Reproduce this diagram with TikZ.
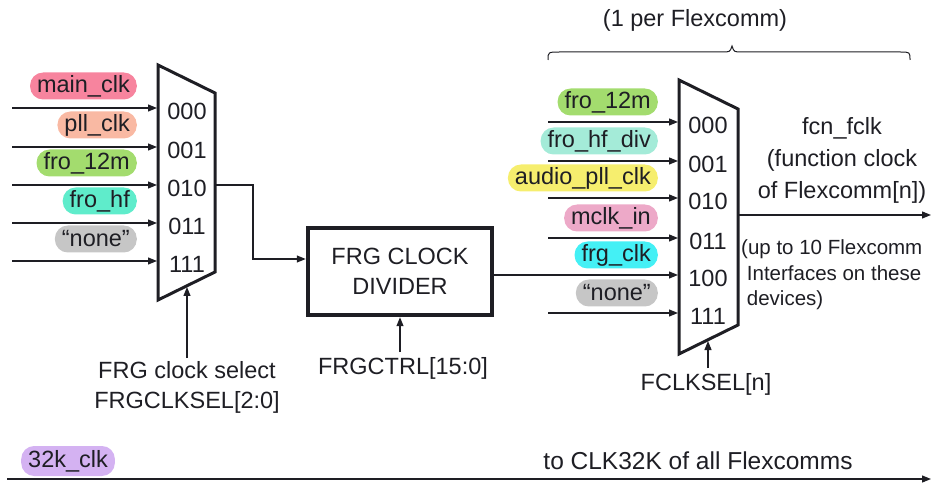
\documentclass[tikz,border=0pt]{standalone}
\usepackage{fontspec}
\setmainfont{Liberation Sans}
\usetikzlibrary{arrows.meta}
\definecolor{cmain}{HTML}{F7849E}
\definecolor{cpll}{HTML}{F9B9A3}
\definecolor{cgreen}{HTML}{A3DC6E}
\definecolor{cfrohf}{HTML}{5FECCB}
\definecolor{cnone}{HTML}{C6C6C6}
\definecolor{cdiv}{HTML}{A4EBD8}
\definecolor{caudio}{HTML}{F6EE6E}
\definecolor{cmclk}{HTML}{EDA9C8}
\definecolor{cfrg}{HTML}{44F0F5}
\definecolor{c32k}{HTML}{D4B2F2}
\definecolor{ink}{HTML}{1E1E24}
\begin{document}
\begin{tikzpicture}[x=1pt,y=-1pt,
  txt/.style={font=\fontsize{23.5}{30}\selectfont, text=ink, inner sep=0pt},
  small/.style={font=\fontsize{20.5}{25.5}\selectfont, text=ink, inner sep=0pt, align=left},
  pill/.style={txt, fill=#1, rounded corners=13pt, minimum height=27pt, inner xsep=7pt, anchor=east},
  sig/.style={draw=ink, line width=1.2pt, -{Triangle[length=9pt,width=7pt]}},
  muxbox/.style={draw=ink, line width=3pt, line join=miter},
  lbl/.style={txt}]
\useasboundingbox (0,0) rectangle (937,486);

% ---------- top brace ----------
\node[txt] (per) at (695,20) {(1 per Flexcomm)};
\draw[ink, line width=1pt] (548,60) .. controls (548,52) .. (560,52) -- (722,52)
  .. controls (730,52) .. (732,46) .. controls (734,52) .. (742,52) -- (900,52)
  .. controls (910,52) .. (910,60);

% ---------- left mux ----------
\coordinate (m1tl) at (158,65);
\coordinate (m1tr) at (215,93);
\coordinate (m1br) at (215,272);
\coordinate (m1bl) at (158,300);
\draw[muxbox] (m1tl) -- (m1tr) -- (m1br) -- (m1bl) -- cycle;

\foreach \n/\y/\lab/\col/\code in {a/108/main\_clk/cmain/000, b/147/pll\_clk/cpll/001, c/185/fro\_12m/cgreen/010, d/223/fro\_hf/cfrohf/011, e/261/``none''/cnone/111}{
  \coordinate (li\n) at (12,\y);
  \coordinate (le\n) at (157,\y);
  \draw[sig] (li\n) -- (le\n);
  \node[pill=\col] (lp\n) at (137,\y-22) {\lab};
  \node[lbl] (lc\n) at (187,\y+3) {\code};
}

% output of left mux to FRG
\coordinate (m1out) at (216,185);
\node[draw=ink, line width=4.5pt, minimum width=184pt, minimum height=87pt, txt, align=center] (frg) at (400,271.5) {FRG CLOCK\\DIVIDER};
\draw[sig] (m1out) -- (253,185) |- (frg.west |- 0,259);

% left mux select
\node[txt, align=center] (sel1) at (187,387) {FRG clock select\\FRGCLKSEL[2:0]};
\coordinate (s1a) at (187,358);
\coordinate (m1sel) at (187,287);
\draw[sig] (s1a) -- (m1sel);

% FRGCTRL
\node[txt] (ctrl) at (403,368) {FRGCTRL[15:0]};
\coordinate (c1a) at (400,352);
\draw[sig] (c1a) -- (frg.south -| c1a);

% ---------- right mux ----------
\coordinate (m2tl) at (679,80);
\coordinate (m2tr) at (738,109);
\coordinate (m2br) at (738,325);
\coordinate (m2bl) at (679,354);
\draw[muxbox] (m2tl) -- (m2tr) -- (m2br) -- (m2bl) -- cycle;

\foreach \n/\y/\lab/\col/\code in {a/122/fro\_12m/cgreen/000, b/161/fro\_hf\_div/cdiv/001, c/198/audio\_pll\_clk/caudio/010, d/238/mclk\_in/cmclk/011, e/313/``none''/cnone/111}{
  \coordinate (ri\n) at (548,\y);
  \coordinate (re\n) at (678,\y);
  \draw[sig] (ri\n) -- (re\n);
  \node[pill=\col] (rp\n) at (658,\y-20) {\lab};
  \node[lbl] (rc\n) at (708,\y+3) {\code};
}
\node[pill=cfrg] (rpf) at (658,255) {frg\_clk};
\node[lbl] (rcf) at (708,278) {100};
\coordinate (ref) at (678,275);
\draw[sig] (frg.east |- ref) -- (ref);

% right mux output
\coordinate (m2out) at (739,215);
\coordinate (fout) at (931,215);
\draw[sig] (m2out) -- (fout);
\node[txt, align=center, font=\fontsize{23.5}{32}\selectfont] (fcn) at (842,160) {fcn\_fclk\\(function clock\\of Flexcomm[n])};
\node[small, anchor=west] (upto) at (741,275) {(up to 10 Flexcomm\\\ Interfaces on these\\\ devices)};

% FCLKSEL
\node[txt] (fsel) at (706,384) {FCLKSEL[n]};
\coordinate (f1a) at (708,368);
\coordinate (m2sel) at (708,341);
\draw[sig] (f1a) -- (m2sel);

% ---------- bottom 32k ----------
\coordinate (k0) at (7,479);
\coordinate (k1) at (931,479);
\draw[sig] (k0) -- (k1);
\node[pill=c32k, anchor=west, minimum height=30pt] (k32) at (21,461) {32k\_clk};
\node[txt, font=\fontsize{24.5}{30}\selectfont] (kto) at (698,461) {to CLK32K of all Flexcomms};
\end{tikzpicture}
\end{document}
